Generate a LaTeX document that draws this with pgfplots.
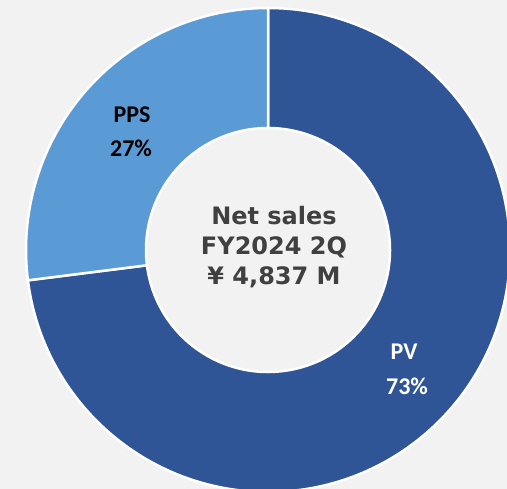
\documentclass[border=0pt]{standalone}
\usepackage{pgfplots}
\pgfplotsset{compat=1.18}
\usepackage{pgfplotstable}
\usepackage{fontspec}
\setmainfont{Carlito}
\newfontfamily\vfont{DejaVu Sans}
\definecolor{bg}{HTML}{F2F2F2}
\definecolor{pv}{HTML}{2F5597}
\definecolor{pps}{HTML}{5B9BD5}
\definecolor{ctext}{HTML}{404040}
\pgfplotstableread{
cat value
PV 73
PPS 27
}\sales
\pgfplotstablegetelem{0}{value}\of\sales \let\pvval\pgfplotsretval
\pgfplotstablegetelem{1}{value}\of\sales \let\ppsval\pgfplotsretval
\begin{document}
\begin{tikzpicture}
\pgfmathsetmacro{\aA}{90}
\pgfmathsetmacro{\aB}{90-\pvval*3.6}
\pgfmathsetmacro{\aC}{\aB-\ppsval*3.6}
\def\ro{242}
\def\ri{122}
\begin{axis}[
  hide axis, scale only axis,
  width=507bp, height=489bp,
  xmin=0, xmax=507, ymin=0, ymax=489,
  enlargelimits=false, clip=true,
]
\addplot[draw=none, fill=bg] coordinates {(0,0) (507,0) (507,489) (0,489)} -- cycle;
% PV slice
\fill[pv, draw=white, line width=2.5bp]
  (axis cs:268,239) ++(\aA:\ro bp) arc[start angle=\aA, end angle=\aB, radius=\ro bp]
  -- ++(\aB+180:{(\ro-\ri)*1bp}) arc[start angle=\aB, end angle=\aA, radius=\ri bp] -- cycle;
% PPS slice
\fill[pps, draw=white, line width=2.5bp]
  (axis cs:268,239) ++(\aB:\ro bp) arc[start angle=\aB, end angle=\aC, radius=\ro bp]
  -- ++(\aC+180:{(\ro-\ri)*1bp}) arc[start angle=\aC, end angle=\aB, radius=\ri bp] -- cycle;
% labels
\node[font=\fontsize{24bp}{28bp}\selectfont\bfseries, text=black, align=center] at (axis cs:132,374) {PPS};
\node[font=\fontsize{24bp}{28bp}\selectfont\bfseries, text=black, align=center] at (axis cs:131,341) {\ppsval\%};
\node[font=\fontsize{24bp}{28bp}\selectfont\bfseries, text=white, align=center] at (axis cs:404,137) {PV};
\node[font=\fontsize{24bp}{28bp}\selectfont\bfseries, text=white, align=center] at (axis cs:407,103) {\pvval\%};
\node[font=\vfont\fontsize{24bp}{30bp}\selectfont\bfseries, text=ctext, align=center] at (axis cs:274,242) {Net sales\\FY2024 2Q\\¥ 4,837 M};
\end{axis}
\end{tikzpicture}
\end{document}
